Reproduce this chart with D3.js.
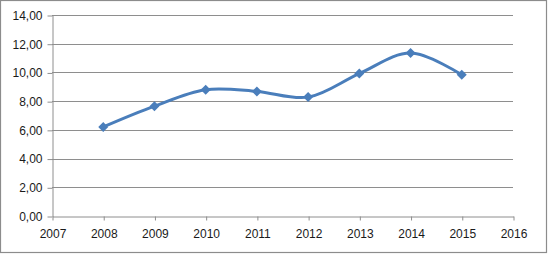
<!DOCTYPE html>
<html>
<head>
<meta charset="utf-8">
<script src="https://cdn.jsdelivr.net/npm/d3@7"></script>
<style>
  html, body { margin: 0; padding: 0; background: #fff; }
  svg { display: block; }
  text { font-family: "Liberation Sans", Arial, sans-serif; font-size: 12px; fill: #1a1a1a; }
</style>
</head>
<body>
<svg id="chart" width="549" height="255"></svg>
<script>
const years = [2008, 2009, 2010, 2011, 2012, 2013, 2014, 2015];
const values = [6.2, 7.65, 8.8, 8.68, 8.28, 9.92, 11.35, 9.83];
const xTicks = [2007, 2008, 2009, 2010, 2011, 2012, 2013, 2014, 2015, 2016];
const yTicks = [0, 2, 4, 6, 8, 10, 12, 14];

(function () {
const svg = d3.select("#chart");

svg.append("rect")
  .attr("x", 0.5).attr("y", 0.5)
  .attr("width", 546).attr("height", 252)
  .attr("fill", "#fff")
  .attr("stroke", "#8c8c8c").attr("stroke-width", 1.2);

const mLeft = 52, mRight = 513, mTop = 15, mBottom = 216;
const x = d3.scaleLinear().domain([2007, 2016]).range([mLeft, mRight]);
const y = d3.scaleLinear().domain([0, 14]).range([mBottom, mTop]);

const fmt = d => d.toFixed(2).replace(".", ",");

svg.append("g").selectAll("line")
  .data(yTicks.filter(d => d > 0))
  .join("line")
  .attr("x1", mLeft).attr("x2", mRight)
  .attr("y1", d => Math.round(y(d)) + 0.5).attr("y2", d => Math.round(y(d)) + 0.5)
  .attr("stroke", "#8e8e8e").attr("stroke-width", 1);

const yAxis = svg.append("g")
  .attr("transform", `translate(${mLeft + 0.5},0.5)`)
  .call(d3.axisLeft(y).tickValues(yTicks).tickFormat(fmt).tickSize(5).tickSizeOuter(0));
yAxis.select(".domain").attr("stroke", "#8e8e8e");
yAxis.selectAll(".tick line").attr("stroke", "#8e8e8e");
yAxis.selectAll(".tick text").attr("x", -10).style("font-family", "Liberation Sans, Arial, sans-serif").style("font-size", "12px").attr("fill", "#1a1a1a");

const xAxis = svg.append("g")
  .attr("transform", `translate(0.5,${mBottom + 0.5})`)
  .call(d3.axisBottom(x).tickValues(xTicks).tickFormat(d3.format("d")).tickSize(4).tickSizeOuter(0));
xAxis.select(".domain").attr("stroke", "#8e8e8e");
xAxis.selectAll(".tick line").attr("stroke", "#8e8e8e");
xAxis.selectAll(".tick text").attr("y", 13).style("font-family", "Liberation Sans, Arial, sans-serif").style("font-size", "12px").attr("fill", "#1a1a1a");

const data = years.map((yr, i) => ({ yr, v: values[i] }));

const line = d3.line()
  .x(d => x(d.yr)).y(d => y(d.v))
  .curve(d3.curveCatmullRom.alpha(0.5));

svg.append("path")
  .datum(data)
  .attr("d", line)
  .attr("fill", "none")
  .attr("stroke", "#4a7ebb")
  .attr("stroke-width", 3)
  .attr("stroke-linejoin", "round");

svg.append("g").selectAll("path")
  .data(data)
  .join("path")
  .attr("transform", d => `translate(${x(d.yr)},${y(d.v)})`)
  .attr("d", "M0,-5L5,0L0,5L-5,0Z")
  .attr("fill", "#4a7ebb");
})();
</script>
</body>
</html>
